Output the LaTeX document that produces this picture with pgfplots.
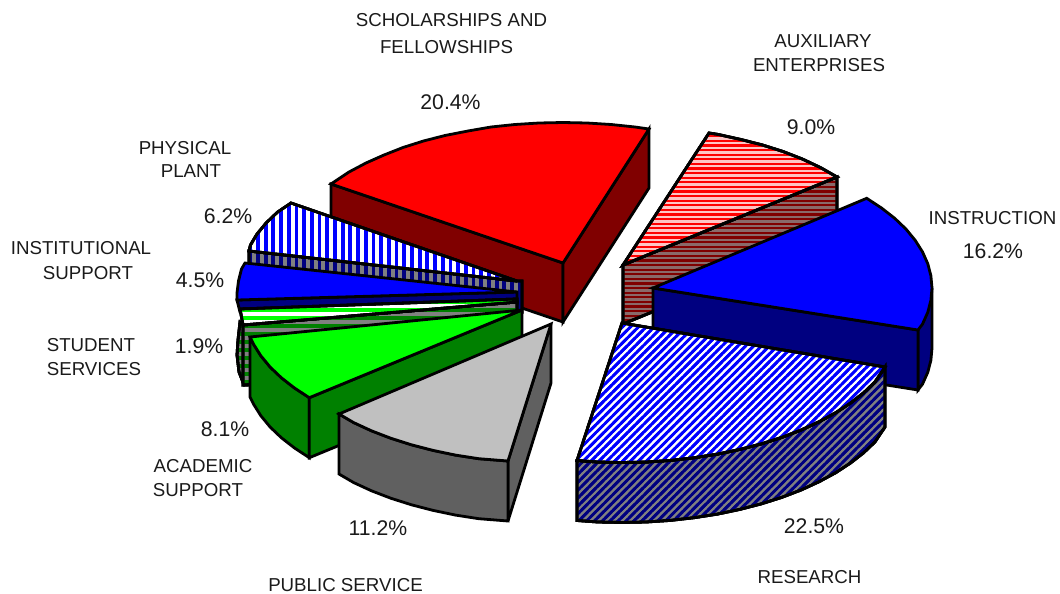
\documentclass[border=0pt]{standalone}
\usepackage{fontspec}
\setmainfont{Liberation Sans}
\usepackage{pgfplots}
\pgfplotsset{compat=1.18}
\usetikzlibrary{patterns}
\definecolor{darkred}{HTML}{800000}
\definecolor{navy}{HTML}{000080}
\definecolor{dkgreen}{HTML}{008000}
\definecolor{lime}{HTML}{00FF00}
\definecolor{ltgray}{HTML}{C0C0C0}
\definecolor{dkgray}{HTML}{606060}
\definecolor{midgray}{HTML}{808080}
\definecolor{rosy}{HTML}{FFC4C4}
\definecolor{rosygray}{HTML}{8A6A6A}
\definecolor{txt}{HTML}{1A1A1A}
% stripe tiles overlap their neighbours so that no seams show
\pgfdeclarepatternformonly{hA}{\pgfpoint{-3pt}{0pt}}{\pgfpoint{7.6pt}{4.6pt}}{\pgfpoint{4.6pt}{4.6pt}}{%
  \pgfsetlinewidth{2.3pt}\pgfpathmoveto{\pgfpoint{-3pt}{2.3pt}}\pgfpathlineto{\pgfpoint{7.6pt}{2.3pt}}\pgfusepath{stroke}}
\pgfdeclarepatternformonly{hB}{\pgfpoint{-3pt}{0pt}}{\pgfpoint{11pt}{8pt}}{\pgfpoint{8pt}{8pt}}{%
  \pgfsetlinewidth{4pt}\pgfpathmoveto{\pgfpoint{-3pt}{4pt}}\pgfpathlineto{\pgfpoint{11pt}{4pt}}\pgfusepath{stroke}}
\pgfdeclarepatternformonly{vA}{\pgfpoint{0pt}{-3pt}}{\pgfpoint{7.7pt}{10.7pt}}{\pgfpoint{7.7pt}{7.7pt}}{%
  \pgfsetlinewidth{3.85pt}\pgfpathmoveto{\pgfpoint{3.85pt}{-3pt}}\pgfpathlineto{\pgfpoint{3.85pt}{10.7pt}}\pgfusepath{stroke}}
\pgfdeclarepatternformonly{dA}{\pgfpoint{-4pt}{-4pt}}{\pgfpoint{11.9pt}{11.9pt}}{\pgfpoint{7.9pt}{7.9pt}}{%
  \pgfsetlinewidth{2.8pt}\pgfpathmoveto{\pgfpoint{-4pt}{-4pt}}\pgfpathlineto{\pgfpoint{11.9pt}{11.9pt}}\pgfusepath{stroke}}
\tikzset{
  wedge/.style={draw=black,line width=2.8pt,line join=miter,miter limit=4},
  stripes/.style n args={3}{draw=black,line width=2.8pt,line join=miter,miter limit=4,
    preaction={fill=#1},
    preaction={pattern=#3,pattern color=#2}},
  lab/.style={font=\fontsize{18.7}{21}\selectfont,text=txt,inner sep=0pt},
  pct/.style={font=\fontsize{21.2}{23}\selectfont,text=txt,inner sep=0pt},
}
\begin{document}
\begin{tikzpicture}
\useasboundingbox (0,0) rectangle (1060pt,594pt);
\begin{axis}[
  scale only axis, width=1060pt, height=594pt,
  xmin=0, xmax=1060, ymin=0, ymax=594, y dir=reverse,
  hide axis, clip=false, no markers,
]
% scholarships: sides then top
\addplot[wedge,fill=darkred] coordinates {(331,184)(563,263)(563,322)(331,243)} --cycle;
\addplot[wedge,fill=darkred] coordinates {(563,263)(649,129)(649,188)(563,322)} --cycle;
\addplot[wedge,fill=red] coordinates {(331,184)(349,172)(366,163)(384,155)(403,147.5)(423.5,141)(445,135.5)(468,131)(491,127)(515,124.5)(539,123)(563,122.5)(587,123)(611,124.5)(635,127)(649,129)(563,263)} --cycle;
% auxiliary
\addplot[stripes={rosygray}{darkred}{hA}] coordinates {(623,265)(837,177)(837,236)(623,324)} --cycle;
\addplot[stripes={rosy}{red}{hA}] coordinates {(709,133)(718.4,134.5)(740.9,139.5)(762.5,145)(783,151.5)(802.3,159)(820.3,167.5)(837,177)(623,265)} --cycle;
% instruction
\addplot[wedge,fill=navy] coordinates {(932,288)(932,348)(930.9,360.2)(927.8,372.2)(922.5,384.1)(918,390)(918,330)} --cycle;
\addplot[wedge,fill=navy] coordinates {(653,288)(918,330)(918,390)(653,348)} --cycle;
\addplot[wedge,fill=blue] coordinates {(866.7,198.3)(881.5,208)(894.6,218.2)(905.9,229)(915.2,240.3)(922.5,251.9)(927.8,263.8)(930.9,275.8)(932,288)(930.9,300.2)(927.8,312.2)(922.5,324.1)(918,330)(653,288)} --cycle;
% research
\addplot[stripes={midgray}{navy}{dA}] coordinates {(577,460.5)(597.7,462)(622,462.5)(646.3,462)(670.4,460.4)(694.2,457.7)(717.4,454.1)(739.9,449.4)(761.5,443.8)(782,437.3)(801.3,429.9)(819.3,421.6)(835.7,412.7)(850.5,403)(863.6,392.8)(874.9,382)(885,367)(885,427)(874.9,442)(863.6,452.8)(850.5,463)(835.7,472.7)(819.3,481.6)(801.3,489.9)(782,497.3)(761.5,503.8)(739.9,509.4)(717.4,514.1)(694.2,517.7)(670.4,520.4)(646.3,522)(622,522.5)(597.7,522)(577,520.5)} --cycle;
\addplot[stripes={white}{blue}{dA}] coordinates {(622,323)(885,367)(874.9,382)(863.6,392.8)(850.5,403)(835.7,412.7)(819.3,421.6)(801.3,429.9)(782,437.3)(761.5,443.8)(739.9,449.4)(717.4,454.1)(694.2,457.7)(670.4,460.4)(646.3,462)(622,462.5)(597.7,462)(577,460.5)} --cycle;
% physical plant
\addplot[stripes={midgray}{navy}{vA}] coordinates {(249,251)(517,281)(522,281)(522,312)(249,282)} --cycle;
\addplot[stripes={white}{blue}{vA}] coordinates {(291,203)(277.4,212.2)(266.1,223)(256.8,234.3)(250.5,245)(249,251)(517,281)} --cycle;
% institutional support
\addplot[wedge,fill=navy] coordinates {(237,300)(517,292)(517,304)(240,312)} --cycle;
\addplot[wedge,fill=blue] coordinates {(245,263)(241.5,269)(238.5,281)(237,293)(237,300)(517,292)} --cycle;
% student services
\addplot[stripes={midgray}{dkgreen}{hB}] coordinates {(240,322)(238,340)(237,355)(239,372)(244,385)(252,385)(252,330)} --cycle;
\addplot[stripes={midgray}{dkgreen}{hB}] coordinates {(243,325)(517,302)(517,362)(243,385)} --cycle;
\addplot[stripes={white}{lime}{hB}] coordinates {(240,309)(517,299)(517,302)(243,325)} --cycle;
% academic support
\addplot[wedge,fill=dkgreen] coordinates {(250,337)(253.5,344.1)(260.8,355.7)(270.1,367)(281.4,377.8)(294.5,388)(309.3,397.7)(309.3,457.7)(294.5,448)(281.4,437.8)(270.1,427)(260.8,415.7)(253.5,404.1)(250,397)} --cycle;
\addplot[wedge,fill=dkgreen] coordinates {(309.3,397.7)(522,310)(522,370)(309.3,457.7)} --cycle;
\addplot[wedge,fill=lime] coordinates {(250,337)(253.5,344.1)(260.8,355.7)(270.1,367)(281.4,377.8)(294.5,388)(309.3,397.7)(522,310)} --cycle;
% public service
\addplot[wedge,fill=dkgray] coordinates {(508,461)(551,324)(551,383)(508,521)} --cycle;
\addplot[wedge,fill=dkgray] coordinates {(339,414)(353.7,422.6)(371.7,430.9)(391,438.3)(411.5,444.8)(433.1,450.4)(455.6,455.1)(478.8,458.7)(508,461)(508,521)(478.8,518.7)(455.6,515.1)(433.1,510.4)(411.5,504.8)(391,498.3)(371.7,490.9)(353.7,482.6)(339,474)} --cycle;
\addplot[wedge,fill=ltgray] coordinates {(339,414)(353.7,422.6)(371.7,430.9)(391,438.3)(411.5,444.8)(433.1,450.4)(455.6,455.1)(478.8,458.7)(508,461)(551,324)} --cycle;
% labels
\node[lab] at (axis cs:451.5,20) {SCHOLARSHIPS AND};
\node[lab] at (axis cs:446.5,47) {FELLOWSHIPS};
\node[pct] at (axis cs:450.5,102) {20.4\%};
\node[lab] at (axis cs:823,41) {AUXILIARY};
\node[lab] at (axis cs:819,65) {ENTERPRISES};
\node[pct] at (axis cs:811,127) {9.0\%};
\node[lab] at (axis cs:992.5,218) {INSTRUCTION};
\node[pct] at (axis cs:993,251) {16.2\%};
\node[pct] at (axis cs:814,526) {22.5\%};
\node[lab] at (axis cs:809.5,577) {RESEARCH};
\node[pct] at (axis cs:378,528) {11.2\%};
\node[lab] at (axis cs:345.5,585) {PUBLIC SERVICE};
\node[pct] at (axis cs:225,429) {8.1\%};
\node[lab] at (axis cs:203,466) {ACADEMIC};
\node[lab] at (axis cs:198,490) {SUPPORT};
\node[lab] at (axis cs:91,345) {STUDENT};
\node[lab] at (axis cs:94,369) {SERVICES};
\node[pct] at (axis cs:199,346) {1.9\%};
\node[lab] at (axis cs:81,248) {INSTITUTIONAL};
\node[lab] at (axis cs:88,273) {SUPPORT};
\node[pct] at (axis cs:200,280) {4.5\%};
\node[lab] at (axis cs:185,148) {PHYSICAL};
\node[lab] at (axis cs:191,171) {PLANT};
\node[pct] at (axis cs:228,216) {6.2\%};
\end{axis}
\end{tikzpicture}
\end{document}
